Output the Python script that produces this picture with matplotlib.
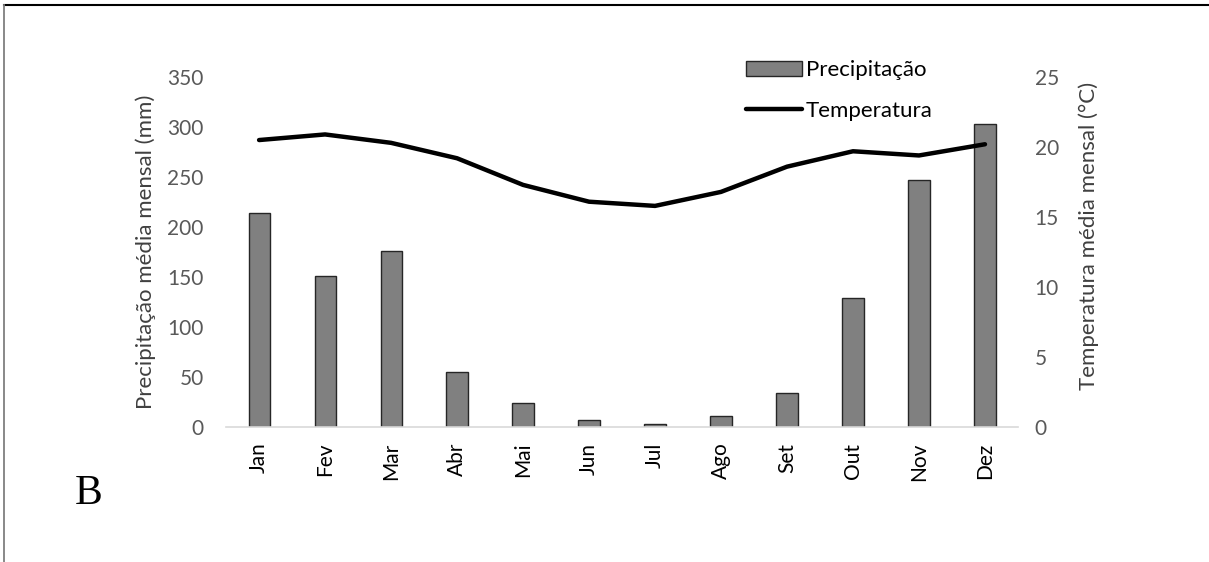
import matplotlib
matplotlib.use("Agg")
import matplotlib.pyplot as plt
from matplotlib.lines import Line2D

plt.rcParams['font.family'] = ['Lato', 'DejaVu Sans']

# monthly climate data
meses = ["Jan", "Fev", "Mar", "Abr", "Mai", "Jun",
         "Jul", "Ago", "Set", "Out", "Nov", "Dez"]
precipitacao = [214, 151, 176, 55, 24, 7, 3, 11, 34, 129, 247, 303]
temperatura = [20.5, 20.9, 20.3, 19.2, 17.3, 16.1,
               15.8, 16.8, 18.6, 19.7, 19.4, 20.2]

prec_ticks = [0, 50, 100, 150, 200, 250, 300, 350]
temp_ticks = [0, 5, 10, 15, 20, 25]

cinza = "#595959"

fig = plt.figure(figsize=(12.09, 5.62), dpi=100)
ax = fig.add_axes([0.187, 0.2397, 0.655, 0.6233])

x = list(range(len(meses)))
barras = ax.bar(x, precipitacao, width=0.32, color="#808080",
                edgecolor="#262626", linewidth=1.0, label="Precipitação")
ax.set_xlim(-0.5, 11.5)
ax.set_ylim(0, 350)
ax.set_yticks(prec_ticks)
ax.set_xticks(x)
ax.set_xticklabels(meses, rotation=90, fontsize=15, color="black")
ax.tick_params(axis="x", length=0, pad=11)
ax.tick_params(axis="y", length=0, pad=16, labelsize=15, labelcolor=cinza)
for lado in ["top", "left", "right"]:
    ax.spines[lado].set_visible(False)
ax.spines["bottom"].set_color("#d9d9d9")
ax.spines["bottom"].set_linewidth(1.2)
ax.set_ylabel("Precipitação média mensal (mm)", fontsize=16, color="#404040",
              labelpad=8)

ax2 = ax.twinx()
linha, = ax2.plot(x, temperatura, color="black", linewidth=3.2,
                  solid_capstyle="round", solid_joinstyle="round",
                  label="Temperatura")
ax2.set_ylim(0, 25)
ax2.set_yticks(temp_ticks)
ax2.tick_params(axis="y", length=0, pad=12, labelsize=15, labelcolor=cinza)
for lado in ["top", "left", "right", "bottom"]:
    ax2.spines[lado].set_visible(False)
ax2.set_ylabel("Temperatura média mensal (°C)", fontsize=16, color="#404040",
               labelpad=10)
ax2.yaxis.set_label_coords(1.076, 0.545)

fig.legend([barras, linha], ["Precipitação", "Temperatura"],
           loc="upper left", bbox_to_anchor=(0.617, 0.893), frameon=False,
           fontsize=16, handlelength=2.5, handletextpad=0.2,
           labelspacing=0.95, borderpad=0, borderaxespad=0)

fig.text(0.073, 0.122, "B", family="Liberation Serif", fontsize=30,
         color="black", ha="center", va="center")

# frame lines along the top and left edges
fig.add_artist(Line2D([0.0035, 1.0], [0.991, 0.991], color="black",
                      linewidth=1.5, transform=fig.transFigure))
fig.add_artist(Line2D([0.0035, 0.0035], [0.0, 0.991], color="#7f7f7f",
                      linewidth=1.3, transform=fig.transFigure))

fig.savefig("out.png", dpi=100)
